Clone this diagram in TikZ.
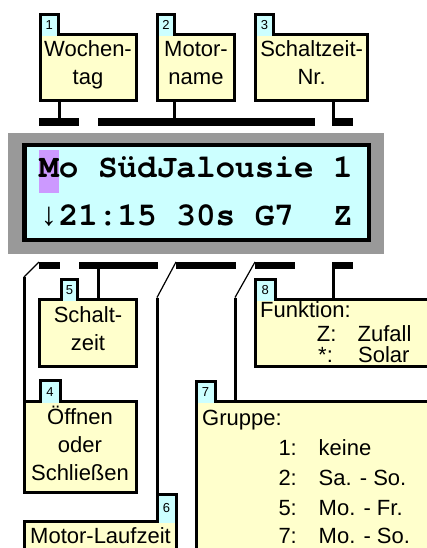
\documentclass[tikz,border=0pt]{standalone}
\usepackage{fontspec}
\setmainfont{Liberation Sans}
\newfontfamily\lcdfont{TeX Gyre Cursor}
\newfontfamily\arrowfont{Liberation Mono}

\definecolor{boxyellow}{HTML}{FFFFCC}
\definecolor{tabcyan}{HTML}{CCFFFF}
\definecolor{lcdcyan}{HTML}{CCFFFF}
\definecolor{cursorlila}{HTML}{CC99FF}
\definecolor{framegray}{HTML}{999999}

\newcommand\boxfont{\fontsize{22}{28}\selectfont}
\newcommand\tabfont{\fontsize{13}{15}\selectfont}
\newcommand\lcdsize{\fontsize{32.67}{36}\selectfont}

\tikzset{
  wh/.style 2 args={minimum width=#1pt, minimum height=#2pt},
  box/.style={draw, fill=boxyellow, line width=3pt, inner sep=0pt, outer sep=0pt,
    align=center, font=\boxfont,
    execute at begin node=\strut, execute at end node=\strut},
  tab/.style={fill=tabcyan, inner sep=0pt, outer sep=0pt, font=\tabfont},
  rim/.style={line width=3pt},
  stem/.style={line width=3pt},
  slant/.style={line width=1.2pt},
  bar/.style={fill=black, inner sep=0pt, outer sep=0pt},
  lcdrow/.style={anchor=base west, inner sep=0pt, font=\lcdfont\bfseries\lcdsize},
  txt/.style={anchor=base west, inner sep=0pt, font=\boxfont}
}

\begin{document}
\begin{tikzpicture}[x=1pt, y=-1pt]
  \useasboundingbox (0,0) rectangle (427,548);
  \clip (0,0) rectangle (427,548);

  % display
  \node[fill=framegray, inner sep=0pt, wh={376}{121}] (frame) at (196,193.5) {};
  \node[draw, fill=lcdcyan, line width=4.5pt, inner sep=0pt, wh={344.5}{94.5}] (lcd) at (196.5,192.5) {};
  \node[fill=cursorlila, inner sep=0pt, wh={19.6}{43}] (cursor) at (48.8,171.5) {};
  \node[lcdrow] (row1) at (39,178) {Mo SüdJalousie 1};
  \node[lcdrow] (row2) at (39,225) {{\arrowfont↓}21:15 30s G7~~Z};

  % boxes
  \node[box, wh={96}{66}] (wotag) at (88,67.2) {Wochen-\\tag};
  \node[box, wh={77}{66}] (motor) at (196,67.2) {Motor-\\name};
  \node[box, wh={112.3}{66}] (nummer) at (311.65,67.2) {Schaltzeit-\\Nr.};
  \node[box, wh={97.4}{67.4}] (zeit) at (88,333) {Schalt-\\zeit};
  \node[box, wh={204.3}{67.4}] (funktion) at (357.85,333) {};
  \node[box, wh={112}{91}] (richtung) at (80,447.2) {Öffnen\\oder\\Schließen};
  \node[box, wh={152}{79}] (laufzeit) at (100,560.5) {};
  \node[box, wh={264}{219}] (gruppe) at (328,510.5) {};

  % tabs
  \node[tab, wh={18.5}{21.5}] (t1) at (49.25,24.95) {1};
  \node[tab, wh={17}{21.5}] (t2) at (166,24.95) {2};
  \node[tab, wh={18}{21.5}] (t3) at (264.5,24.95) {3};
  \node[tab, wh={20}{23.2}] (t4) at (50,391.6) {4};
  \node[tab, wh={16}{21.5}] (t5) at (69.5,290.05) {5};
  \node[tab, wh={19}{28.2}] (t6) at (166.5,508.4) {6};
  \node[tab, wh={19}{21.5}] (t7) at (205.5,391.75) {7};
  \node[tab, wh={19.3}{21.5}] (t8) at (265.35,290.05) {8};
  \foreach \t in {t1,t2,t3,t4,t5,t6,t7,t8}
    \draw[rim] (\t.south west) |- (\t.north east) -- (\t.south east);

  % bars
  \node[bar, wh={40}{8}] (bar1) at (59,122) {};
  \node[bar, wh={217}{8}] (bar2) at (206.5,122) {};
  \node[bar, wh={21}{8}] (bar3) at (342.5,122) {};
  \node[bar, wh={21}{7}] (barA) at (49.5,265.5) {};
  \node[bar, wh={79}{7}] (barB) at (118.5,265.5) {};
  \node[bar, wh={60}{7}] (barC) at (206,265.5) {};
  \node[bar, wh={40}{7}] (barD) at (275,265.5) {};
  \node[bar, wh={21}{7}] (barE) at (342.5,265.5) {};

  % connectors
  \draw[stem] (wotag.south -| bar1.north) -- (bar1.north);
  \draw[stem] (t2.east |- motor.south) -- (t2.east |- bar2.north);
  \coordinate (s3) at ([xshift=1pt]bar3.north west);
  \draw[stem] (s3 |- nummer.south) -- (s3);
  \coordinate (k4) at (24,277);
  \draw[slant] (barA.north west) -- (k4);
  \draw[stem] (k4) -- (richtung.north west);
  \coordinate (s5) at ([xshift=19pt]barB.south west);
  \draw[stem] (s5) -- (s5 |- zeit.north);
  \coordinate (k6) at (157,297.5);
  \draw[slant] (barC.north west) -- (k6);
  \draw[stem] (k6) -- (t6.north west);
  \coordinate (k7) at (235,297.5);
  \draw[slant] (barD.north west) -- (k7);
  \draw[stem] (k7) -- (k7 |- gruppe.north);
  \coordinate (s8) at ([xshift=1.5pt]barE.south west);
  \draw[stem] (s8) -- (s8 |- funktion.north);

  % texts
  \node[txt] (fktlabel) at (260,317) {Funktion:};
  \node[txt] (fktz) at (316.7,341) {Z:};
  \node[txt] (fktztext) at (357.5,341) {Zufall};
  \node[txt] (fkts) at (318,362) {*:};
  \node[txt] (fktstext) at (358,362) {Solar};
  \node[txt] (grplabel) at (202,425) {Gruppe:};
  \foreach \y/\n/\tx in {455/1/keine, 485/2/Sa. - So., 515/5/Mo. - Fr., 543/7/Mo. - So.} {
    \node[txt] (grp\n) at (278.3,\y) {\n:};
    \node[txt] (grp\n text) at (318.5,\y) {\tx};
  }
  \node[txt] (lauflabel) at (30,543) {Motor-Laufzeit};
\end{tikzpicture}
\end{document}
